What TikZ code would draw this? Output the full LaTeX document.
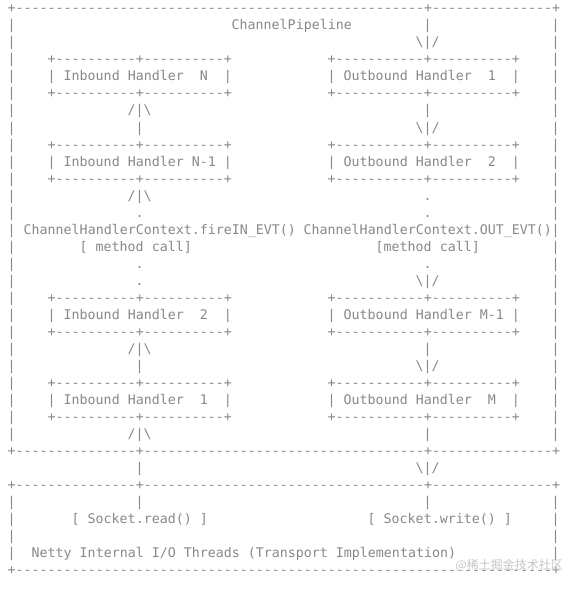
\documentclass[tikz,border=0pt]{standalone}
\usepackage{fontspec}
\setmonofont{DejaVu Sans Mono}
\newfontfamily\cjk{Noto Sans CJK SC}
\definecolor{asciigray}{HTML}{888888}
\definecolor{markgray}{HTML}{C4C4C4}
\newcommand\dashrun[1]{\foreach \k in {1,...,#1}{-}}

\begin{document}
\begin{tikzpicture}[x=8pt,y=-17.03pt,
    ascii/.style={anchor=base west,inner sep=0pt,text=asciigray,
      font=\ttfamily\fontsize{13.3}{16}\selectfont}]
  \path[use as bounding box] (0pt,0pt) rectangle (580pt,-589pt);
  \begin{scope}[shift={(7.5pt,-12.8pt)}]
    % pipeline frame
    \node[ascii] (pipetop) at (0,0) {+\dashrun{51}+\dashrun{15}+};
    \foreach \r in {1,...,25} {
      \node[ascii] (lside\r) at (0,\r) {|};
      \node[ascii] (rside\r) at (68,\r) {|};
    }
    \node[ascii] (title) at (28,1) {ChannelPipeline};
    \node[ascii] (req) at (52,1) {|};
    \node[ascii] (reqarr) at (51,2) {\textbackslash|/};
    % inbound handlers
    \node[ascii] (inNtop) at (5,3) {+\dashrun{10}+\dashrun{10}+};
    \node[ascii] (inN) at (5,4) {| Inbound Handler\ \ N\ \ |};
    \node[ascii] (inNbot) at (5,5) {+\dashrun{10}+\dashrun{10}+};
    \node[ascii] (inPtop) at (5,8) {+\dashrun{10}+\dashrun{10}+};
    \node[ascii] (inP) at (5,9) {| Inbound Handler N-1 |};
    \node[ascii] (inPbot) at (5,10) {+\dashrun{10}+\dashrun{10}+};
    \node[ascii] (in2top) at (5,17) {+\dashrun{10}+\dashrun{10}+};
    \node[ascii] (in2) at (5,18) {| Inbound Handler\ \ 2\ \ |};
    \node[ascii] (in2bot) at (5,19) {+\dashrun{10}+\dashrun{10}+};
    \node[ascii] (in1top) at (5,22) {+\dashrun{10}+\dashrun{10}+};
    \node[ascii] (in1) at (5,23) {| Inbound Handler\ \ 1\ \ |};
    \node[ascii] (in1bot) at (5,24) {+\dashrun{10}+\dashrun{10}+};
    % outbound handlers
    \node[ascii] (out1top) at (40,3) {+\dashrun{11}+\dashrun{10}+};
    \node[ascii] (out1) at (40,4) {| Outbound Handler\ \ 1\ \ |};
    \node[ascii] (out1bot) at (40,5) {+\dashrun{11}+\dashrun{10}+};
    \node[ascii] (out2top) at (40,8) {+\dashrun{11}+\dashrun{10}+};
    \node[ascii] (out2) at (40,9) {| Outbound Handler\ \ 2\ \ |};
    \node[ascii] (out2bot) at (40,10) {+\dashrun{11}+\dashrun{10}+};
    \node[ascii] (outPtop) at (40,17) {+\dashrun{11}+\dashrun{10}+};
    \node[ascii] (outP) at (40,18) {| Outbound Handler M-1 |};
    \node[ascii] (outPbot) at (40,19) {+\dashrun{11}+\dashrun{10}+};
    \node[ascii] (outMtop) at (40,22) {+\dashrun{11}+\dashrun{10}+};
    \node[ascii] (outM) at (40,23) {| Outbound Handler\ \ M\ \ |};
    \node[ascii] (outMbot) at (40,24) {+\dashrun{11}+\dashrun{10}+};
    % inbound flow (upwards)
    \node[ascii] (upa) at (15,6) {/|\textbackslash};
    \node[ascii] (upb) at (16,7) {|};
    \node[ascii] (upc) at (15,11) {/|\textbackslash};
    \node[ascii] (upd) at (16,12) {.};
    \node[ascii] (upe) at (16,15) {.};
    \node[ascii] (upf) at (16,16) {.};
    \node[ascii] (upg) at (15,20) {/|\textbackslash};
    \node[ascii] (uph) at (16,21) {|};
    \node[ascii] (upi) at (15,25) {/|\textbackslash};
    % outbound flow (downwards)
    \node[ascii] (dna) at (52,6) {|};
    \node[ascii] (dnb) at (51,7) {\textbackslash|/};
    \node[ascii] (dnc) at (52,11) {.};
    \node[ascii] (dnd) at (52,12) {.};
    \node[ascii] (dne) at (52,15) {.};
    \node[ascii] (dnf) at (51,16) {\textbackslash|/};
    \node[ascii] (dng) at (52,20) {|};
    \node[ascii] (dnh) at (51,21) {\textbackslash|/};
    \node[ascii] (dni) at (52,25) {|};
    % method calls
    \node[ascii] (firein) at (2,13) {ChannelHandlerContext.fireIN\_EVT()};
    \node[ascii] (fireout) at (37,13) {ChannelHandlerContext.OUT\_EVT()};
    \node[ascii] (callin) at (9,14) {[ method call]};
    \node[ascii] (callout) at (46,14) {[method call]};
    % between pipeline and transport
    \node[ascii] (pipebot) at (0,26) {+\dashrun{15}+\dashrun{35}+\dashrun{15}+};
    \node[ascii] (readup) at (16,27) {|};
    \node[ascii] (writedn) at (51,27) {\textbackslash|/};
    \node[ascii] (iotop) at (0,28) {+\dashrun{15}+\dashrun{35}+\dashrun{15}+};
    % transport
    \foreach \r in {29,...,32} {
      \node[ascii] (liside\r) at (0,\r) {|};
      \node[ascii] (riside\r) at (68,\r) {|};
    }
    \node[ascii] (readbar) at (16,29) {|};
    \node[ascii] (writebar) at (52,29) {|};
    \node[ascii] (read) at (8,30) {[ Socket.read() ]};
    \node[ascii] (write) at (45,30) {[ Socket.write() ]};
    \node[ascii] (threads) at (3,32) {Netty Internal I/O Threads (Transport Implementation)};
    \node[ascii] (iobot) at (0,33) {+\dashrun{67}+};
  \end{scope}
  \node[anchor=east,inner sep=0pt,text=markgray,
    font=\cjk\fontsize{12}{12}\selectfont] (mark) at (563pt,-565pt) {@稀土掘金技术社区};
\end{tikzpicture}
\end{document}
